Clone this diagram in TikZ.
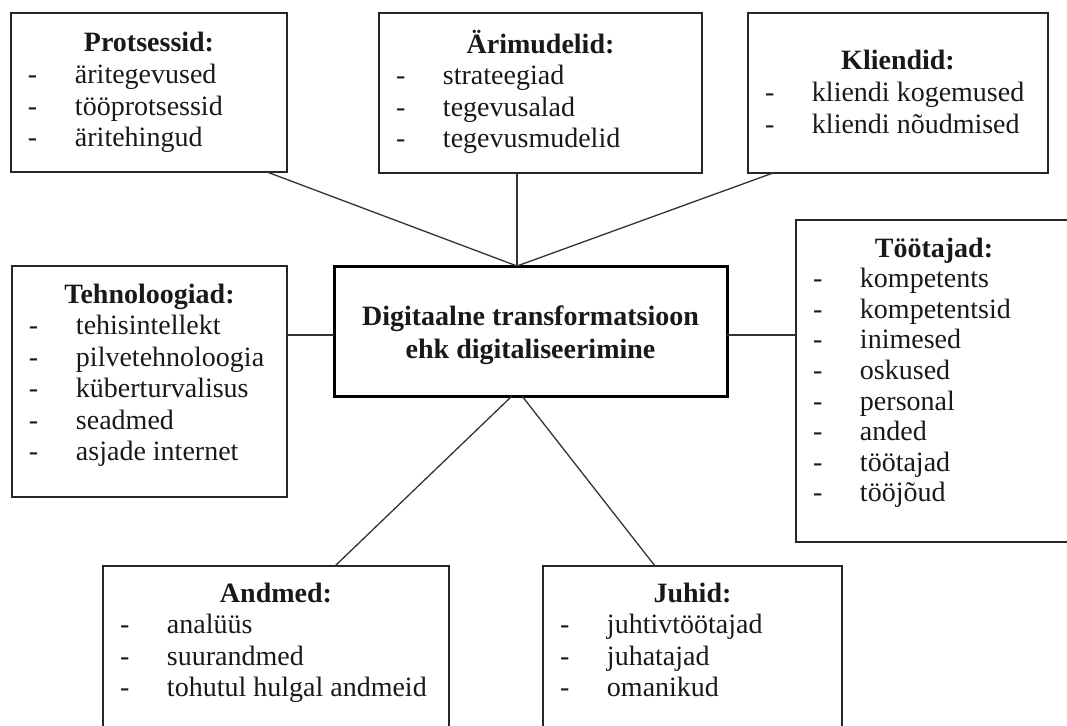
\documentclass[tikz,border=0pt]{standalone}
\usepackage{fontspec}
\setmainfont{Liberation Serif}
% one list entry: a dash, then the item at a fixed indent
\newcommand\entry[1]{\par\noindent\hspace*{17pt}\makebox[47pt][l]{-}#1}
% panel text: bold centred heading followed by the entries
\newcommand\paneltext[3]{\parbox[t]{#1pt}{\centering\bfseries #2\par\raggedright\mdseries #3}}
\begin{document}
\begin{tikzpicture}[x=1pt,y=-1pt,
  panel/.style={draw=black!85, line width=1.5pt, rectangle, inner sep=0pt, outer sep=0pt, anchor=north west},
  hub/.style={draw=black, line width=3pt, rectangle, inner sep=0pt, outer sep=0pt, anchor=north west},
  hubtext/.style={inner sep=0pt, align=center, text=black!90, font=\bfseries\fontsize{28}{33}\selectfont},
  link/.style={draw=black!80, line width=1.3pt},
  body/.style={anchor=base, inner sep=0pt, outer sep=0pt, text=black!90,
    font=\fontsize{28}{31.5}\selectfont}
]
\useasboundingbox (0,0) rectangle (1067,725);
\clip (0,0) rectangle (1067,725);

% central box
\node[hub, minimum width=393pt, minimum height=130pt] (main) at (334,266) {};
\node[hubtext] (main-txt) at ([yshift=-4pt]main.center)
  {Digitaalne transformatsioon\\ehk digitaliseerimine};

% surrounding panels
\node[panel, minimum width=276pt, minimum height=159pt] (proc)   at (11,13)  {};
\node[panel, minimum width=323pt, minimum height=160pt] (model)  at (379,13) {};
\node[panel, minimum width=300pt, minimum height=160pt] (client) at (748,13) {};
\node[panel, minimum width=275pt, minimum height=231pt] (tech)   at (12,266) {};
\node[panel, minimum width=279pt, minimum height=322pt] (staff)  at (796,220) {};
\node[panel, minimum width=346pt, minimum height=220pt] (data)   at (103,566) {};
\node[panel, minimum width=299pt, minimum height=220pt] (lead)   at (543,566) {};

% panel contents
\node[body] (proc-txt) at ([yshift=-39pt]proc.north)
  {\paneltext{276}{Protsessid:}{\entry{äritegevused}\entry{tööprotsessid}\entry{äritehingud}}};
\node[body] (model-txt) at ([yshift=-40pt]model.north)
  {\paneltext{323}{Ärimudelid:}{\entry{strateegiad}\entry{tegevusalad}\entry{tegevusmudelid}}};
\node[body] (client-txt) at ([yshift=-57pt]client.north)
  {\paneltext{300}{Kliendid:}{\entry{kliendi kogemused}\entry{kliendi nõudmised}}};
\node[body] (tech-txt) at ([yshift=-37pt]tech.north)
  {\paneltext{275}{Tehnoloogiad:}{\entry{tehisintellekt}\entry{pilvetehnoloogia}\entry{küberturvalisus}\entry{seadmed}\entry{asjade internet}}};
\node[body, font=\fontsize{28}{30.6}\selectfont] (staff-txt) at ([xshift=138pt,yshift=-37pt]staff.north west)
  {\paneltext{276}{Töötajad:}{\entry{kompetents}\entry{kompetentsid}\entry{inimesed}\entry{oskused}\entry{personal}\entry{anded}\entry{töötajad}\entry{tööjõud}}};
\node[body] (data-txt) at ([yshift=-36pt]data.north)
  {\paneltext{346}{Andmed:}{\entry{analüüs}\entry{suurandmed}\entry{tohutul hulgal andmeid}}};
\node[body] (lead-txt) at ([yshift=-36pt]lead.north)
  {\paneltext{299}{Juhid:}{\entry{juhtivtöötajad}\entry{juhatajad}\entry{omanikud}}};

% meeting points on the central box
\coordinate (topjoin)  at ([xshift=-13.5pt]main.north);
\coordinate (botjoinL) at ([xshift=-18.5pt]main.south);
\coordinate (botjoinR) at ([xshift=-8.5pt]main.south);
\coordinate (sidejoinL) at ([yshift=-4pt]main.west);
\coordinate (sidejoinR) at ([yshift=-4pt]main.east);

% connectors
\draw[link] ([xshift=-20pt]proc.south east) -- (topjoin);
\draw[link] (topjoin |- model.south) -- (topjoin);
\draw[link] ([xshift=25pt]client.south west) -- (topjoin);
\draw[link] (tech.east |- sidejoinL) -- (sidejoinL);
\draw[link] (sidejoinR) -- (staff.west |- sidejoinR);
\draw[link] ([xshift=232pt]data.north west) -- (botjoinL);
\draw[link] ([xshift=112pt]lead.north west) -- (botjoinR);
\end{tikzpicture}
\end{document}
